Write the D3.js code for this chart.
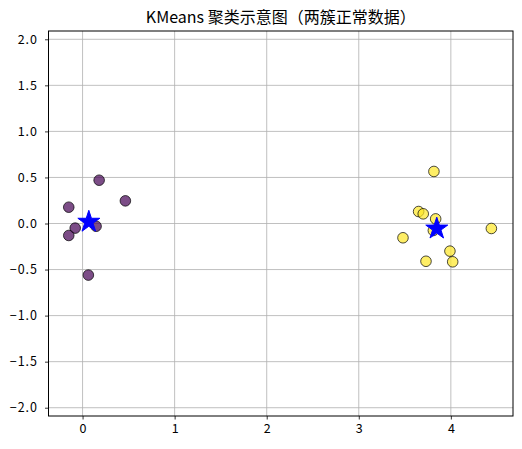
<!DOCTYPE html>
<html><head><meta charset="utf-8">
<script src="https://cdn.jsdelivr.net/npm/d3@7"></script>
<style>body{margin:0;background:#fff}svg{display:block}</style>
</head><body>
<script>
const cluster0X = [0.18, 0.465, -0.15, 0.147, -0.08, -0.15, 0.063];
const cluster0Y = [0.47, 0.246, 0.177, -0.03, -0.05, -0.13, -0.56];
const cluster1X = [3.816, 3.65, 3.70, 3.835, 3.81, 4.44, 3.48, 3.99, 3.73, 4.02];
const cluster1Y = [0.565, 0.13, 0.105, 0.05, -0.076, -0.054, -0.155, -0.30, -0.41, -0.416];
const centersX = [0.068, 3.847];
const centersY = [0.018, -0.056];
const xTicks = [0, 1, 2, 3, 4];
const yTicks = [-2.0, -1.5, -1.0, -0.5, 0.0, 0.5, 1.0, 1.5, 2.0];
const title = "KMeans 聚类示意图（两簇正常数据）";

const W = 522, H = 449;
const m = {l: 48.5, r: 9, t: 31, b: 33};
const svg = d3.select("body").append("svg").attr("width", W).attr("height", H);
const x = d3.scaleLinear().domain([-0.37, 4.675]).range([m.l, W - m.r]);
const y = d3.scaleLinear().domain([-2.09, 2.09]).range([H - m.b, m.t]);
const font = "'Noto Sans CJK SC', 'DejaVu Sans', sans-serif";

// grid
const g = svg.append("g");
g.selectAll(".gx").data(xTicks).join("line")
  .attr("x1", d => x(d)).attr("x2", d => x(d)).attr("y1", m.t).attr("y2", H - m.b)
  .attr("stroke", "#b0b0b0").attr("stroke-width", 0.8);
g.selectAll(".gy").data(yTicks).join("line")
  .attr("y1", d => y(d)).attr("y2", d => y(d)).attr("x1", m.l).attr("x2", W - m.r)
  .attr("stroke", "#b0b0b0").attr("stroke-width", 0.8);

// points
const pts = [];
cluster0X.forEach((v, i) => pts.push({x: v, y: cluster0Y[i], c: "#440154"}));
cluster1X.forEach((v, i) => pts.push({x: v, y: cluster1Y[i], c: "#fde725"}));
svg.append("g").selectAll("circle").data(pts).join("circle")
  .attr("cx", d => x(d.x)).attr("cy", d => y(d.y)).attr("r", 5.3)
  .attr("fill", d => d.c).attr("fill-opacity", 0.7)
  .attr("stroke", "#000").attr("stroke-opacity", 0.7).attr("stroke-width", 1);

// centers (stars)
const star = d3.symbol().type(d3.symbolStar).size(150);
svg.append("g").selectAll("path").data(centersX.map((v, i) => ({x: v, y: centersY[i]}))).join("path")
  .attr("d", star)
  .attr("transform", d => `translate(${x(d.x)},${y(d.y)})`)
  .attr("fill", "#0000ff").attr("stroke", "#0000ff").attr("stroke-width", 1);

// axes
const xAxis = svg.append("g").attr("transform", `translate(0,${H - m.b})`)
  .call(d3.axisBottom(x).tickValues(xTicks).tickSize(3.5).tickPadding(5).tickFormat(d3.format("d")));
const yAxis = svg.append("g").attr("transform", `translate(${m.l},0)`)
  .call(d3.axisLeft(y).tickValues(yTicks).tickSize(3.5).tickPadding(7).tickFormat(d3.format(".1f")));
[xAxis, yAxis].forEach(a => {
  a.select(".domain").remove();
  a.selectAll("text").attr("font-family", font).attr("font-size", 12.5).attr("fill", "#000");
  a.selectAll("line").attr("stroke", "#000").attr("stroke-width", 0.8);
});
yAxis.selectAll("text").attr("letter-spacing", 1).text(d => d3.format(".1f")(d).replace("-", "−"));

// frame
svg.append("rect").attr("x", m.l).attr("y", m.t).attr("width", W - m.l - m.r).attr("height", H - m.t - m.b)
  .attr("fill", "none").attr("stroke", "#000").attr("stroke-width", 1);

svg.append("text").attr("x", (m.l + W - m.r) / 2).attr("y", 23)
  .attr("text-anchor", "middle").attr("font-family", font).attr("font-size", 16)
  .text(title);
</script>
</body></html>
